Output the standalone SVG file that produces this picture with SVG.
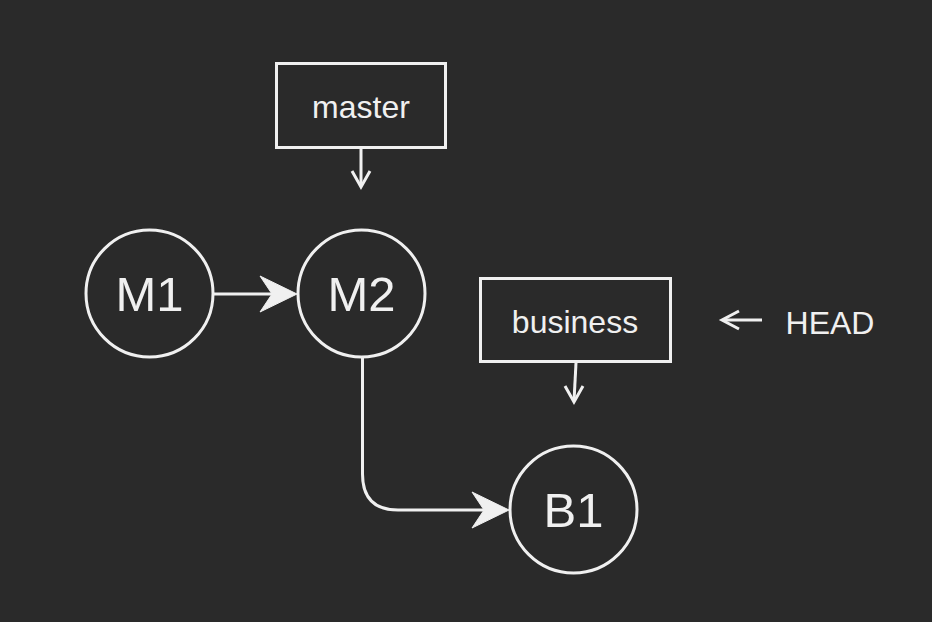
<svg xmlns="http://www.w3.org/2000/svg" width="932" height="622" viewBox="0 0 932 622">
<style>
.bg{fill:#2a2a2a}
.node{fill:#2a2a2a;stroke:#f0f0f0;stroke-width:3}
.ln{fill:none;stroke:#f0f0f0;stroke-width:3}
.hd{fill:#f0f0f0;stroke:#f0f0f0;stroke-width:1;stroke-linejoin:miter}
.t{fill:#f0f0f0;font-family:"Liberation Sans",Arial,Helvetica,sans-serif;text-anchor:middle}
.big{font-size:49px}
.sm{font-size:32px}
</style>
<rect class="bg" x="0" y="0" width="932" height="622"/>
<g id="connectors">
  <line class="ln" x1="214" y1="294" x2="276" y2="294"/>
  <polygon class="hd" points="297,294 260,276 272,294 260,312"/>
  <path class="ln" d="M362.5,358 V474 Q362.5,510 398,510 H488"/>
  <polygon class="hd" points="509,510 472,492 484,510 472,528"/>
  <line class="ln" x1="361" y1="149" x2="361" y2="186"/>
  <polyline class="ln" points="352,171 361,187 370,171"/>
  <line class="ln" x1="576" y1="363" x2="574" y2="401"/>
  <polyline class="ln" points="565,386 574,402 583,386"/>
  <line class="ln" x1="762" y1="320" x2="723" y2="320"/>
  <polyline class="ln" points="739,311 722,320 739,329"/>
</g>
<g id="M1">
  <circle class="node" cx="149.5" cy="293.5" r="63.5"/>
  <text class="t big" x="149.5" y="311">M1</text>
</g>
<g id="M2">
  <circle class="node" cx="361.5" cy="293.5" r="63.5"/>
  <text class="t big" x="361.5" y="311">M2</text>
</g>
<g id="B1">
  <circle class="node" cx="573.5" cy="509.5" r="63.5"/>
  <text class="t big" x="573.5" y="527">B1</text>
</g>
<g id="master">
  <rect class="node" x="276.5" y="63.5" width="169" height="84"/>
  <text class="t sm" x="361" y="118">master</text>
</g>
<g id="business">
  <rect class="node" x="480.5" y="278.5" width="190" height="83"/>
  <text class="t sm" x="575" y="333">business</text>
</g>
<g id="HEAD">
  <text class="t sm" x="830" y="334">HEAD</text>
</g>
</svg>
